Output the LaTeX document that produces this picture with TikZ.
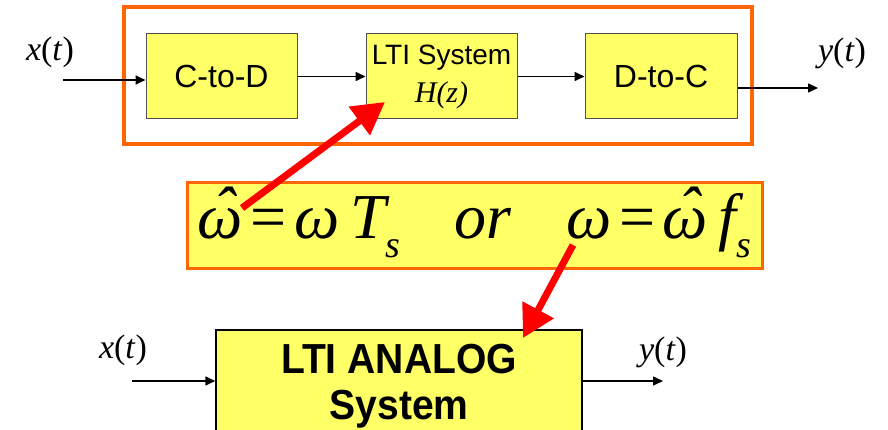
\documentclass[tikz,border=0pt]{standalone}
\usepackage{fontspec}
\setmainfont{Liberation Sans}
\newfontfamily\tms{Liberation Serif}
\newfontfamily\narrowsf[FakeStretch=0.93]{Liberation Sans}
\usetikzlibrary{arrows.meta, positioning, calc}
\definecolor{syell}{RGB}{255,255,102}
\definecolor{sorng}{RGB}{255,102,  0}
\definecolor{sred} {RGB}{255,  0,  0}
\definecolor{sgray}{RGB}{ 80, 80, 80}
% omega with a hat, a spaced equals sign and a lowered subscript
\newcommand\omhat{\ooalign{ω\cr\hidewidth\kern0.12em\raisebox{0.1em}{ˆ}\hidewidth\cr}}
\newcommand\eqs{\hspace{0.12em}{\upshape=}\hspace{0.12em}}
\newcommand\subs[1]{\raisebox{-0.3em}{\fontsize{38}{38}\selectfont #1}}
\tikzset{
  % Yellow block of the sampled chain
  YB/.style={rectangle,draw=sgray,fill=syell,line width=1pt,
             minimum width=#1,minimum height=85pt,align=center,
             inner sep=0pt,font=\fontsize{32}{36}\selectfont},
  YB/.default=151pt,
  % Orange frame round the chain
  Frame/.style={rectangle,draw=sorng,line width=4pt,inner sep=0pt,
                minimum width=628pt,minimum height=137pt},
  % Orange-edged formula box
  FB/.style={rectangle,draw=sorng,fill=syell,line width=3pt,inner sep=0pt,
             minimum width=575pt,minimum height=85pt,
             font=\tms\itshape\fontsize{64}{64}\selectfont},
  % Big analog block
  BB/.style={rectangle,draw=black,fill=syell,line width=1.5pt,
             minimum width=366pt,minimum height=112pt,align=center,
             inner sep=0pt,font=\narrowsf\bfseries\fontsize{42}{46}\selectfont},
  % Signal label
  Sig/.style={inner sep=0pt,font=\tms\fontsize{34}{34}\selectfont},
  % Arrows
  SArr/.style={-{Triangle[length=10pt,width=9pt]},line width=1.6pt,color=black},
  RArr/.style={-{Triangle[length=32pt,width=34pt]},line width=7pt,color=sred},
}
\begin{document}
\begin{tikzpicture}[x=1pt,y=-1pt]
  \clip (0,0) rectangle (888,430);
  % sampled chain
  \node[Frame] (dsp) at (438,75.5) {};
  \node[YB] (cd) at (221.5,76.5) {C-to-D};
  \node[YB,font=\fontsize{28}{38}\selectfont] (lti) at (441.5,76.5)
       {LTI System\\{\tms\itshape\fontsize{30}{38}\selectfont H(z)}};
  \node[YB=152pt] (dc) at (661,76.5) {D-to-C};
  \node[Sig] (xa) at (50,52) {\textit{x}(\textit{t})};
  \node[Sig] (ya) at (842,53) {\textit{y}(\textit{t})};
  \coordinate (xin) at (63,80);
  \coordinate (yout) at (818,88);
  \draw[SArr] (xin) -- (xin -| cd.west);
  \draw[SArr] (cd) -- (lti);
  \draw[SArr] (lti) -- (dc);
  \draw[SArr] (yout -| dc.east) -- (yout);
  % frequency relation
  \node[FB] (rel) at (474.5,225.5)
       {\omhat\eqs ω\,T\subs{s}\hspace{0.85em}or\hspace{0.85em}%
        ω\eqs\omhat\,f\subs{s}};
  % analog system
  \node[BB] (alti) at (399,386) {LTI ANALOG\\System};
  \node[Sig] (xb) at (123,350) {\textit{x}(\textit{t})};
  \node[Sig] (yb) at (663,352) {\textit{y}(\textit{t})};
  \coordinate (xin2) at (132,381);
  \coordinate (yout2) at (663,381);
  \draw[SArr] (xin2) -- (xin2 -| alti.west);
  \draw[SArr] (yout2 -| alti.east) -- (yout2);
  % pointers
  \coordinate (t1) at (242,208);
  \coordinate (h1) at (385,102);
  \coordinate (t2) at (573,245);
  \coordinate (h2) at (523,338);
  \draw[RArr] (t1) -- (h1);
  \draw[RArr] (t2) -- (h2);
\end{tikzpicture}
\end{document}
